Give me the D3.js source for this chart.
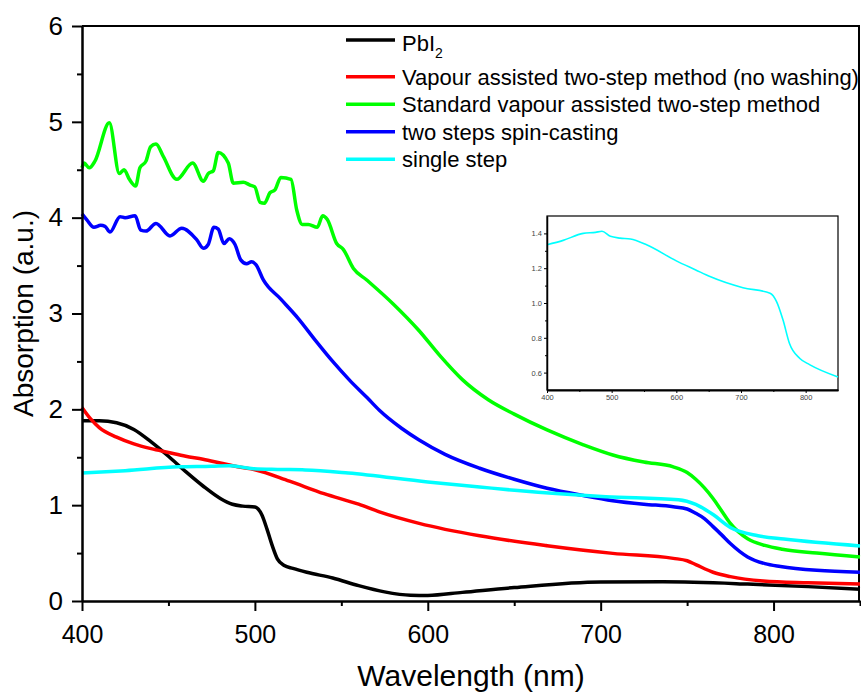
<!DOCTYPE html>
<html>
<head>
<meta charset="utf-8">
<script src="https://cdn.jsdelivr.net/npm/d3@7"></script>
<style>
  body { margin: 0; background: #fff; }
  svg { font-family: "Liberation Sans", Arial, sans-serif; display: block; }
  .axis path, .axis line { stroke: #000; }
  .inset .axis text { fill: #444; }
</style>
</head>
<body>
<script>
// ---- data ----
var seriesNames = ["PbI2", "Vapour assisted two-step method (no washing)",
  "Standard vapour assisted two-step method", "two steps spin-casting", "single step"];
var seriesColors = ["#000000", "#ff0000", "#00ff00", "#0000ff", "#00ffff"];

var pbi2Wl = [400, 410, 420, 430, 440, 450, 460, 470, 480, 487, 493, 500, 504, 507, 510, 513, 517, 522, 530, 545, 560, 575, 590, 600, 620, 650, 700, 736, 785, 820, 850];
var pbi2Abs = [1.88, 1.88, 1.86, 1.79, 1.66, 1.51, 1.35, 1.20, 1.07, 1.01, 0.99, 0.98, 0.90, 0.75, 0.58, 0.44, 0.37, 0.34, 0.30, 0.24, 0.16, 0.095, 0.06, 0.058, 0.09, 0.14, 0.198, 0.20, 0.177, 0.15, 0.122];

var redWl = [400, 405, 410, 420, 430, 440, 450, 460, 470, 480, 490, 500, 520, 540, 560, 572, 595, 630, 669, 707, 742, 750, 755, 765, 775, 794, 820, 850];
var redAbs = [2.02, 1.90, 1.81, 1.71, 1.64, 1.59, 1.55, 1.51, 1.48, 1.44, 1.40, 1.37, 1.25, 1.12, 1.01, 0.93, 0.81, 0.68, 0.577, 0.497, 0.445, 0.42, 0.38, 0.30, 0.254, 0.209, 0.19, 0.177];

var greenWl = [400, 401.2, 404.2, 407.5, 415.8, 421.6, 424.3, 427.4, 431, 433.5, 437, 439.7, 442.8, 447, 454.8, 464, 470.2, 473, 476, 478.8, 484.6, 487.5, 493.3, 497.2, 500, 503, 505.5, 508.7, 511.6, 515, 520.9, 524.2, 527.4, 530.9, 536.1, 539.2, 541.9, 547.3, 551.1, 557, 564.7, 580, 595, 607, 620, 635, 650, 669, 690, 707, 725, 742, 750, 755, 760, 765, 770, 775, 785, 795, 805, 825, 850];
var greenAbs = [4.52, 4.57, 4.52, 4.59, 4.99, 4.46, 4.50, 4.40, 4.33, 4.52, 4.59, 4.74, 4.77, 4.64, 4.40, 4.57, 4.38, 4.46, 4.49, 4.68, 4.57, 4.36, 4.37, 4.34, 4.32, 4.16, 4.15, 4.26, 4.29, 4.42, 4.40, 4.08, 3.93, 3.93, 3.90, 4.02, 3.98, 3.73, 3.67, 3.47, 3.35, 3.10, 2.82, 2.56, 2.31, 2.10, 1.95, 1.785, 1.63, 1.524, 1.45, 1.40, 1.34, 1.27, 1.18, 1.07, 0.94, 0.81, 0.65, 0.58, 0.54, 0.50, 0.46];

var blueWl = [400, 402.7, 406.9, 410.8, 413.3, 416.2, 422, 424.9, 430.7, 434, 437, 442.8, 450.9, 457.7, 466.3, 470.2, 473, 476.3, 478.8, 482.1, 485.2, 488.5, 491.8, 495.2, 498.1, 500.6, 504.9, 515, 525, 535, 545, 555, 565, 572, 585, 595, 610, 630, 650, 669, 690, 707, 725, 742, 750, 755, 760, 765, 770, 775, 785, 795, 804, 825, 850];
var blueAbs = [4.04, 3.98, 3.90, 3.92, 3.91, 3.85, 4.01, 4.00, 4.02, 3.87, 3.86, 3.94, 3.81, 3.89, 3.77, 3.68, 3.72, 3.90, 3.88, 3.73, 3.78, 3.72, 3.56, 3.52, 3.54, 3.51, 3.35, 3.15, 2.95, 2.72, 2.50, 2.30, 2.12, 1.99, 1.80, 1.68, 1.53, 1.385, 1.27, 1.176, 1.10, 1.047, 1.01, 0.984, 0.96, 0.915, 0.86, 0.776, 0.69, 0.60, 0.46, 0.39, 0.36, 0.32, 0.30];

var cyanWl = [400, 425, 456, 475, 485, 498, 513, 529, 554, 600, 630, 652, 703, 745, 755, 765, 775, 791, 806, 850];
var cyanAbs = [1.335, 1.36, 1.40, 1.406, 1.412, 1.383, 1.373, 1.368, 1.335, 1.242, 1.19, 1.152, 1.088, 1.056, 1.008, 0.902, 0.767, 0.681, 0.646, 0.575];

var xTicks = [400, 500, 600, 700, 800];
var xMinorTicks = [450, 550, 650, 750, 850];
var yTicks = [0, 1, 2, 3, 4, 5, 6];
var yMinorTicks = [0.5, 1.5, 2.5, 3.5, 4.5, 5.5];
var insetYTicks = [0.6, 0.8, 1.0, 1.2, 1.4];
var insetYMinor = [0.7, 0.9, 1.1, 1.3];

var allWl = [pbi2Wl, redWl, greenWl, blueWl, cyanWl];
var allAbs = [pbi2Abs, redAbs, greenAbs, blueAbs, cyanAbs];

// ---- layout ----
var svgWidth = 861;
var svgHeight = 695;
var chartMargin = { top: 26, right: 1, bottom: 94, left: 82 };
var chartWidth = svgWidth - chartMargin.left - chartMargin.right;
var chartHeight = svgHeight - chartMargin.top - chartMargin.bottom;

var svg = d3.select("body").append("svg")
  .attr("width", svgWidth)
  .attr("height", svgHeight);

var chartGroup = svg.append("g")
  .attr("transform", `translate(${chartMargin.left}, ${chartMargin.top})`);

var xScale = d3.scaleLinear().domain([400, 850]).range([0, chartWidth]);
var yScale = d3.scaleLinear().domain([0, 6]).range([chartHeight, 0]);

// frame (top and right)
chartGroup.append("line")
  .attr("x1", 0).attr("x2", chartWidth).attr("y1", 0).attr("y2", 0)
  .attr("stroke", "#000").attr("stroke-width", 2);
chartGroup.append("line")
  .attr("x1", chartWidth - 1).attr("x2", chartWidth - 1).attr("y1", 0).attr("y2", chartHeight)
  .attr("stroke", "#000").attr("stroke-width", 2);

// curves
var line = d3.line()
  .x(d => xScale(d[0]))
  .y(d => yScale(d[1]))
  .curve(d3.curveMonotoneX);

allWl.forEach((wl, i) => {
  var pts = wl.map((w, j) => [w, allAbs[i][j]]);
  chartGroup.append("path")
    .attr("d", line(pts))
    .attr("fill", "none")
    .attr("stroke", seriesColors[i])
    .attr("stroke-width", 3.5)
    .attr("stroke-linejoin", "round");
});

// axes
var bottomAxis = d3.axisBottom(xScale).tickValues(xTicks).tickSize(10).tickSizeOuter(0).tickPadding(14);
var leftAxis = d3.axisLeft(yScale).tickValues(yTicks).tickSize(10).tickSizeOuter(0).tickPadding(9).tickFormat(d3.format("d"));

var xAxisG = chartGroup.append("g").attr("class", "axis")
  .attr("transform", `translate(0, ${chartHeight})`)
  .call(bottomAxis);
chartGroup.append("g").attr("class", "axis")
  .attr("transform", `translate(0, ${chartHeight})`)
  .call(d3.axisBottom(xScale).tickValues(xMinorTicks).tickSize(5).tickSizeOuter(0).tickFormat(""));
var yAxisG = chartGroup.append("g").attr("class", "axis").call(leftAxis);
chartGroup.append("g").attr("class", "axis")
  .call(d3.axisLeft(yScale).tickValues(yMinorTicks).tickSize(5).tickSizeOuter(0).tickFormat(""));

chartGroup.selectAll(".axis path").attr("stroke-width", 2);
chartGroup.selectAll(".axis line").attr("stroke-width", 2);
xAxisG.selectAll("text").style("font-size", "25px").attr("fill", "#000");
yAxisG.selectAll("text").style("font-size", "26px").attr("fill", "#000");

// axis titles
svg.append("text")
  .attr("x", chartMargin.left + chartWidth / 2)
  .attr("y", 686)
  .attr("text-anchor", "middle")
  .style("font-size", "30px")
  .text("Wavelength (nm)");

svg.append("text")
  .attr("transform", `translate(33, ${chartMargin.top + chartHeight / 2}) rotate(-90)`)
  .attr("text-anchor", "middle")
  .style("font-size", "28px")
  .text("Absorption (a.u.)");

// legend
var legendRowsY = [40, 76.7, 104.2, 131.7, 159.2];
var legend = svg.append("g");
seriesNames.forEach((name, i) => {
  legend.append("line")
    .attr("x1", 346).attr("x2", 395)
    .attr("y1", legendRowsY[i]).attr("y2", legendRowsY[i])
    .attr("stroke", seriesColors[i]).attr("stroke-width", 3.5);
  var t = legend.append("text")
    .attr("x", 402)
    .attr("y", i == 0 ? 51 : legendRowsY[i] + 8)
    .style("font-size", "22px");
  if (i == 0) {
    t.append("tspan").text("PbI");
    t.append("tspan").attr("dy", 7).style("font-size", "14px").text("2");
  } else {
    t.text(name);
  }
});

// inset
var inset = { left: 547, top: 216, width: 291, height: 174 };
var insetG = svg.append("g").attr("class", "inset")
  .attr("transform", `translate(${inset.left}, ${inset.top})`);
var ix = d3.scaleLinear().domain([400, 850]).range([0, inset.width]);
var iy = d3.scaleLinear().domain([0.5, 1.5]).range([inset.height, 0]);

insetG.append("rect")
  .attr("width", inset.width).attr("height", inset.height)
  .attr("fill", "#fff").attr("stroke", "#000").attr("stroke-width", 1.2);

var insetLine = d3.line()
  .x(d => ix(d[0]))
  .y(d => iy(d[1]))
  .curve(d3.curveMonotoneX);
insetG.append("path")
  .attr("d", insetLine(cyanWl.map((w, j) => [w, cyanAbs[j]])))
  .attr("fill", "none")
  .attr("stroke", "#00ffff")
  .attr("stroke-width", 1.6);

var ixAxis = insetG.append("g").attr("class", "axis")
  .attr("transform", `translate(0, ${inset.height})`)
  .call(d3.axisBottom(ix).tickValues(xTicks).tickSize(3).tickSizeOuter(0).tickPadding(2));
insetG.append("g").attr("class", "axis")
  .attr("transform", `translate(0, ${inset.height})`)
  .call(d3.axisBottom(ix).tickValues([450, 550, 650, 750]).tickSize(2).tickSizeOuter(0).tickFormat(""));
var iyAxis = insetG.append("g").attr("class", "axis")
  .call(d3.axisLeft(iy).tickValues(insetYTicks).tickSize(3).tickSizeOuter(0).tickPadding(2).tickFormat(d3.format(".1f")));
insetG.append("g").attr("class", "axis")
  .call(d3.axisLeft(iy).tickValues(insetYMinor).tickSize(2).tickSizeOuter(0).tickFormat(""));

ixAxis.select("path").attr("stroke", "#777").attr("stroke-width", 2);
iyAxis.select("path").attr("stroke-width", 1.5);
insetG.selectAll(".axis text").style("font-size", "7.5px");
</script>
</body>
</html>
